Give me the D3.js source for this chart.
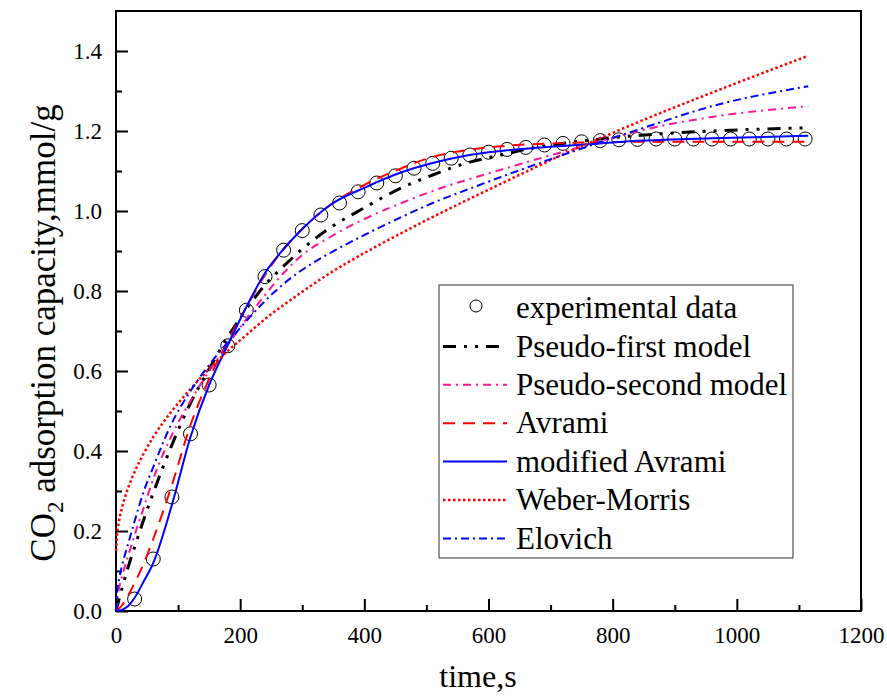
<!DOCTYPE html>
<html>
<head>
<meta charset="utf-8">
<script src="https://cdn.jsdelivr.net/npm/d3@7"></script>
<style>
  body { margin: 0; background: #fff; }
  text { font-family: "Liberation Serif", "Times New Roman", serif; fill: #000; }
</style>
</head>
<body>
<svg id="chart" width="887" height="696"></svg>
<script>
// experimental points, time in s, capacity in mmol/g
var expTime = [30, 60, 90, 120, 150, 180, 210, 240, 270, 300, 330, 360, 390, 420, 450, 480, 510, 540,
  570, 600, 630, 660, 690, 720, 750, 780, 810, 840, 870, 900, 930, 960, 990, 1020, 1050, 1080, 1110];
var expValue = [0.03, 0.13, 0.285, 0.443, 0.565, 0.663, 0.752, 0.836, 0.902, 0.951, 0.99, 1.02, 1.048, 1.07,
  1.088, 1.107, 1.119, 1.132, 1.14, 1.147, 1.154, 1.159, 1.165, 1.169, 1.173, 1.176, 1.178, 1.179, 1.18,
  1.18, 1.18, 1.18, 1.18, 1.18, 1.18, 1.18, 1.18];

// fitted curves at these times
var fitTime = [0, 2, 5, 10, 20, 30, 45, 60, 90, 120, 150, 180, 210, 240, 270, 300, 345, 400, 460, 510,
  565, 620, 670, 725, 780, 850, 960, 1115];
var pseudoFirst = [0, 0.012, 0.03, 0.058, 0.112, 0.16, 0.23, 0.295, 0.415, 0.52, 0.605, 0.685, 0.755, 0.815,
  0.862, 0.905, 0.958, 1.008, 1.058, 1.09, 1.12, 1.14, 1.157, 1.17, 1.18, 1.19, 1.2, 1.208];
var pseudoSecond = [0, 0.03, 0.058, 0.088, 0.14, 0.19, 0.26, 0.33, 0.44, 0.525, 0.6, 0.665, 0.73, 0.79,
  0.845, 0.89, 0.935, 0.98, 1.02, 1.05, 1.078, 1.103, 1.126, 1.15, 1.174, 1.203, 1.235, 1.262];
var avrami = [0, 0.002, 0.006, 0.015, 0.04, 0.07, 0.12, 0.18, 0.315, 0.465, 0.58, 0.675, 0.76, 0.84,
  0.905, 0.955, 1.015, 1.065, 1.107, 1.135, 1.152, 1.162, 1.167, 1.17, 1.172, 1.173, 1.173, 1.173];
var modAvrami = [0, 0.0005, 0.001, 0.003, 0.013, 0.033, 0.075, 0.12, 0.265, 0.435, 0.565, 0.665, 0.76, 0.845,
  0.905, 0.955, 1.015, 1.058, 1.097, 1.12, 1.139, 1.15, 1.157, 1.163, 1.169, 1.176, 1.182, 1.188];
var weberMorris = [0.15, 0.195, 0.226, 0.26, 0.31, 0.348, 0.395, 0.435, 0.5, 0.555, 0.605, 0.65, 0.69, 0.73,
  0.765, 0.798, 0.845, 0.895, 0.945, 0.985, 1.027, 1.068, 1.105, 1.145, 1.182, 1.228, 1.296, 1.388];
var elovich = [0, 0.05, 0.08, 0.115, 0.17, 0.225, 0.3, 0.36, 0.47, 0.55, 0.615, 0.672, 0.725, 0.775,
  0.818, 0.853, 0.895, 0.94, 0.985, 1.02, 1.053, 1.085, 1.113, 1.143, 1.172, 1.208, 1.262, 1.312];

var xTicks = [0, 200, 400, 600, 800, 1000, 1200];
var xMinor = [100, 300, 500, 700, 900, 1100];
var yTicks = [0, 0.2, 0.4, 0.6, 0.8, 1.0, 1.2, 1.4];
var yMinor = [0.1, 0.3, 0.5, 0.7, 0.9, 1.1, 1.3];

var legendNames = ["experimental data", "Pseudo-first model", "Pseudo-second model", "Avrami",
  "modified Avrami", "Weber-Morris", "Elovich"];

var series = [
  {values: pseudoFirst, color: "#000000", width: 3, dash: "13,8,3,8,3,8"},
  {values: pseudoSecond, color: "#ff1493", width: 2, dash: "8,5,2,5"},
  {values: avrami, color: "#ff0000", width: 2, dash: "12,8"},
  {values: modAvrami, color: "#0000ff", width: 2, dash: null},
  {values: weberMorris, color: "#ff0000", width: 2.5, dash: "2.5,2.5"},
  {values: elovich, color: "#0000ff", width: 2, dash: "8,4,2,4"}
];

var serif = '"Liberation Serif", "Times New Roman", serif';
var svg = d3.select("#chart");
var x = d3.scaleLinear().domain([0, 1200]).range([116, 861]);
var y = d3.scaleLinear().domain([0, 1.5]).range([611, 11]);

// axes with inward ticks
function bare(g) { g.select(".domain").remove(); g.attr("font-family", null).attr("font-size", null); }
svg.append("g").attr("transform", "translate(0,611)")
  .call(d3.axisBottom(x).tickValues(xMinor).tickSize(-6).tickFormat("")).call(bare);
svg.append("g").attr("transform", "translate(0,611)")
  .call(d3.axisBottom(x).tickValues(xTicks).tickSize(-12).tickPadding(16).tickFormat(d3.format("d"))).call(bare);
svg.append("g").attr("transform", "translate(116,0)")
  .call(d3.axisLeft(y).tickValues(yMinor).tickSize(-6).tickFormat("")).call(bare);
svg.append("g").attr("transform", "translate(116,0)")
  .call(d3.axisLeft(y).tickValues(yTicks).tickSize(-12).tickPadding(14).tickFormat(d3.format(".1f"))).call(bare);

svg.selectAll(".tick line").attr("stroke", "#000").attr("stroke-width", 2);
svg.selectAll(".tick text").style("font-size", "23px").style("font-family", serif);

svg.append("rect").attr("x", 116).attr("y", 11).attr("width", 745).attr("height", 600)
  .attr("fill", "none").attr("stroke", "#000").attr("stroke-width", 2);

// experimental circles
svg.append("g").selectAll("circle").data(expTime).join("circle")
  .attr("cx", function (d) { return x(d); })
  .attr("cy", function (d, i) { return y(expValue[i]); })
  .attr("r", 7).attr("fill", "none").attr("stroke", "#000").attr("stroke-width", 1);

var line = d3.line().curve(d3.curveMonotoneX);
series.forEach(function (s) {
  svg.append("path")
    .attr("d", line(fitTime.map(function (t, i) { return [x(t), y(s.values[i])]; })))
    .attr("fill", "none").attr("stroke", s.color).attr("stroke-width", s.width)
    .attr("stroke-dasharray", s.dash);
});

// legend
var lg = svg.append("g");
lg.append("rect").attr("x", 439).attr("y", 285).attr("width", 354).attr("height", 273)
  .attr("fill", "#fff").attr("stroke", "#333").attr("stroke-width", 1);
legendNames.forEach(function (name, i) {
  var cy = 308 + i * 38.4;
  if (i === 0) {
    lg.append("circle").attr("cx", 476).attr("cy", cy - 2).attr("r", 6)
      .attr("fill", "none").attr("stroke", "#000").attr("stroke-width", 1);
  } else {
    var s = series[i - 1];
    lg.append("line").attr("x1", 443).attr("x2", 507).attr("y1", cy).attr("y2", cy)
      .attr("stroke", s.color).attr("stroke-width", s.width).attr("stroke-dasharray", s.dash);
  }
  lg.append("text").attr("x", 516).attr("y", cy).attr("dy", "0.33em")
    .style("font-family", serif).style("font-size", "31px").text(name);
});

// axis titles
svg.append("text").attr("x", 478).attr("y", 687).attr("text-anchor", "middle")
  .style("font-family", serif).style("font-size", "32px").text("time,s");
var yt = svg.append("text").attr("transform", "translate(55,333) rotate(-90)")
  .attr("text-anchor", "middle").style("font-family", serif).style("font-size", "35px");
yt.append("tspan").text("CO");
yt.append("tspan").attr("dy", 8).style("font-size", "23px").text("2");
yt.append("tspan").attr("dy", -8).text(" adsorption capacity,mmol/g");
</script>
</body>
</html>
